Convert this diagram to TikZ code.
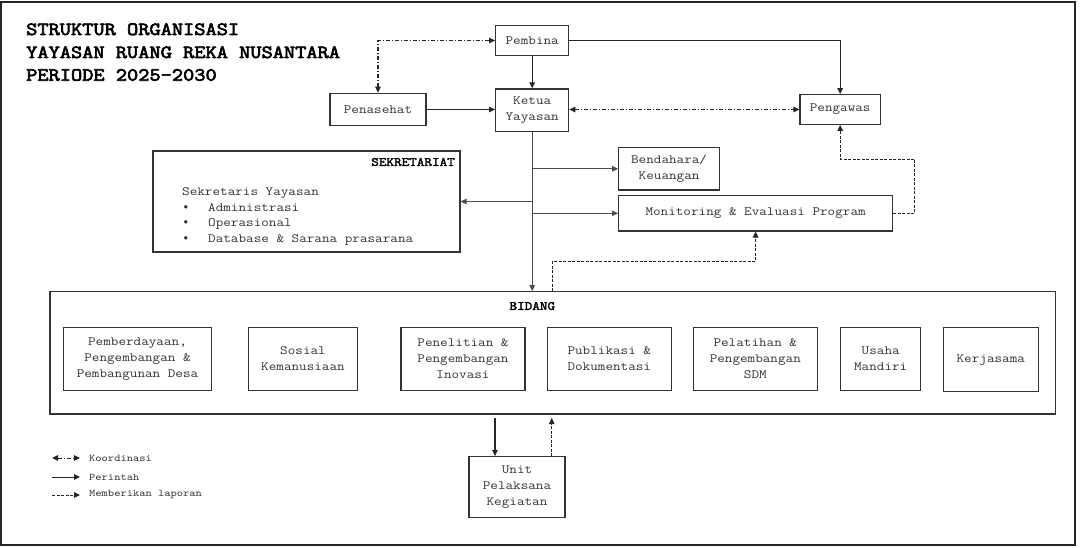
\documentclass[tikz,border=0pt]{standalone}
\usepackage{fontspec}
\newfontfamily\cour{Latin Modern Mono}[FakeStretch=1.17]
\newfontfamily\courb{Latin Modern Mono}[FakeStretch=1.17,FakeBold=2.5]
\newfontfamily\courtb{Latin Modern Mono}[FakeStretch=1.17,FakeBold=3.5]
\newfontfamily\bulf{Liberation Mono}
\usetikzlibrary{arrows.meta,calc}
\begin{document}
\begin{tikzpicture}[x=1pt,y=-1pt,
 box/.style={draw=black!80, line width=1.2pt, inner sep=0pt, align=center, text=black!80, font=\cour\fontsize{12.6}{16}\selectfont},
 frame/.style={draw=black!80, line width=1.2pt, inner sep=0pt},
 txt/.style={inner sep=0pt, text=black!80, font=\cour\fontsize{12.6}{16}\selectfont},
 bul/.style={inner sep=0pt, text=black!80, font=\bulf\fontsize{12.6}{16}\selectfont},
 hdr/.style={inner sep=0pt, text=black, font=\courb\fontsize{12.6}{16}\selectfont},
 ttl/.style={inner sep=0pt, text=black, anchor=west, font=\courtb\fontsize{18.6}{22}\selectfont},
 lgd/.style={inner sep=0pt, text=black!80, anchor=west, font=\cour\fontsize{10.2}{12}\selectfont},
 cmd/.style={line width=1.2pt, draw=black!85, -{Triangle[length=6pt,width=5.5pt]}},
 thinarr/.style={line width=0.8pt, draw=black!70, -{Triangle[length=6pt,width=5.5pt]}},
 koord/.style={line width=1.1pt, draw=black!85, dash pattern=on 4pt off 2pt on 1pt off 2pt, {Triangle[length=6pt,width=5.5pt]}-{Triangle[length=6pt,width=5.5pt]}},
 lap/.style={line width=1.1pt, draw=black!85, dash pattern=on 3pt off 1.5pt, -{Triangle[length=6pt,width=5.5pt]}},
]
\useasboundingbox (0,0) rectangle (1080,548);
\draw[line width=1.5pt, black!85] (1,2) rectangle (1075,545);

% title
\node[ttl] (t1) at (26,29.3) {STRUKTUR ORGANISASI};
\node[ttl] (t2) at (26,52.3) {YAYASAN RUANG REKA NUSANTARA};
\node[ttl] (t3) at (26,75) {PERIODE 2025-2030};

% top boxes
\node[box, minimum width=73pt, minimum height=30.4pt] (pembina) at (532.2,40.5) {Pembina};
\node[box, minimum width=73pt, minimum height=42.7pt] (ketua) at (532.2,110.3) {Ketua\\Yayasan};
\node[box, minimum width=96pt, minimum height=32.4pt] (penasehat) at (378,109.5) {Penasehat};
\node[box, minimum width=80.4pt, minimum height=29.6pt] (pengawas) at (840.2,109.5) {Pengawas};
\node[box, minimum width=100.8pt, minimum height=42.3pt] (bendahara) at (669.1,168.8) {Bendahara/\\Keuangan};
\node[box, minimum width=274pt, minimum height=35.3pt] (monitoring) at (755.6,213.3) {Monitoring \& Evaluasi Program};

% sekretariat
\node[frame, minimum width=307pt, minimum height=101pt] (sek) at (306.5,201.5) {};
\node[hdr, anchor=east] (sekh) at (455,162) {SEKRETARIAT};
\node[txt, anchor=base west] (s0) at (182,196) {Sekretaris Yayasan};
\node[bul, anchor=base west] (b1) at (182,211.5) {•};
\node[txt, anchor=base west] (s1) at (208,211.5) {Administrasi};
\node[bul, anchor=base west] (b2) at (182,227) {•};
\node[txt, anchor=base west] (s2) at (208,227) {Operasional};
\node[bul, anchor=base west] (b3) at (182,242.5) {•};
\node[txt, anchor=base west] (s3) at (208,242.5) {Database \& Sarana prasarana};

% bidang
\node[frame, minimum width=1005.5pt, minimum height=122.3pt] (bidang) at (552.7,352.8) {};
\node[hdr] (bidh) at (532.3,306) {BIDANG};
\node[box, minimum width=148.4pt, minimum height=62.6pt] (pemb) at (137.5,359) {Pemberdayaan,\\Pengembangan \&\\Pembangunan Desa};
\node[box, minimum width=109.4pt, minimum height=62.6pt] (sosial) at (303,359) {Sosial\\Kemanusiaan};
\node[box, minimum width=124pt, minimum height=62.6pt] (penelitian) at (463,359) {Penelitian \&\\Pengembangan\\Inovasi};
\node[box, minimum width=124pt, minimum height=62.6pt] (publikasi) at (609.3,359) {Publikasi \&\\Dokumentasi};
\node[box, minimum width=124pt, minimum height=62.6pt] (pelatihan) at (755.3,359) {Pelatihan \&\\Pengembangan\\SDM};
\node[box, minimum width=80pt, minimum height=62.6pt] (usaha) at (880.7,359) {Usaha\\Mandiri};
\node[box, minimum width=95pt, minimum height=64pt] (kerjasama) at (990.8,359.7) {Kerjasama};

% unit
\node[box, minimum width=96pt, minimum height=60.6pt] (unit) at (517,487) {Unit\\Pelaksana\\Kegiatan};

% connectors
\draw[cmd] (pembina) -- (ketua);
\draw[cmd] (pembina.east) -| (pengawas.north);
\draw[cmd] (penasehat.east) -- (penasehat.east -| ketua.west);
\draw[koord] (penasehat.north) |- (pembina.west);
\draw[koord] (ketua.east |- pengawas.west) -- (pengawas.west);

\draw[thinarr] (ketua.south) -- (ketua.south |- bidang.north);
\draw[thinarr] (ketua.south |- bendahara.west) -- (bendahara.west);
\draw[thinarr] (ketua.south |- sek.east) -- (sek.east);
\draw[thinarr] (ketua.south |- monitoring.west) -- (monitoring.west);

\coordinate (d1) at (552.3,261.7);
\draw[lap] (bidang.north -| d1) -- (d1) -| (monitoring.south);
\coordinate (d2) at (914.9,159.3);
\draw[lap] (monitoring.east) -| (d2) -| (pengawas.south);

\coordinate (u1) at (495,418);
\coordinate (u2) at (551.7,418);
\draw[cmd] (u1) -- (u1 |- unit.north);
\draw[lap] (u2 |- unit.north) -- (u2);

% legend
\coordinate (la1) at (52,458); \coordinate (lb1) at (80,458);
\coordinate (la2) at (52,477); \coordinate (lb2) at (80,477);
\coordinate (la3) at (52,495); \coordinate (lb3) at (80,495);
\draw[koord, line width=0.9pt] (la1) -- (lb1);
\draw[cmd, line width=0.9pt] (la2) -- (lb2);
\draw[lap, line width=0.9pt] (la3) -- (lb3);
\node[lgd] (l1) at (89,458) {Koordinasi};
\node[lgd] (l2) at (89,477) {Perintah};
\node[lgd] (l3) at (89,495) {Memberikan laporan};
\end{tikzpicture}
\end{document}
